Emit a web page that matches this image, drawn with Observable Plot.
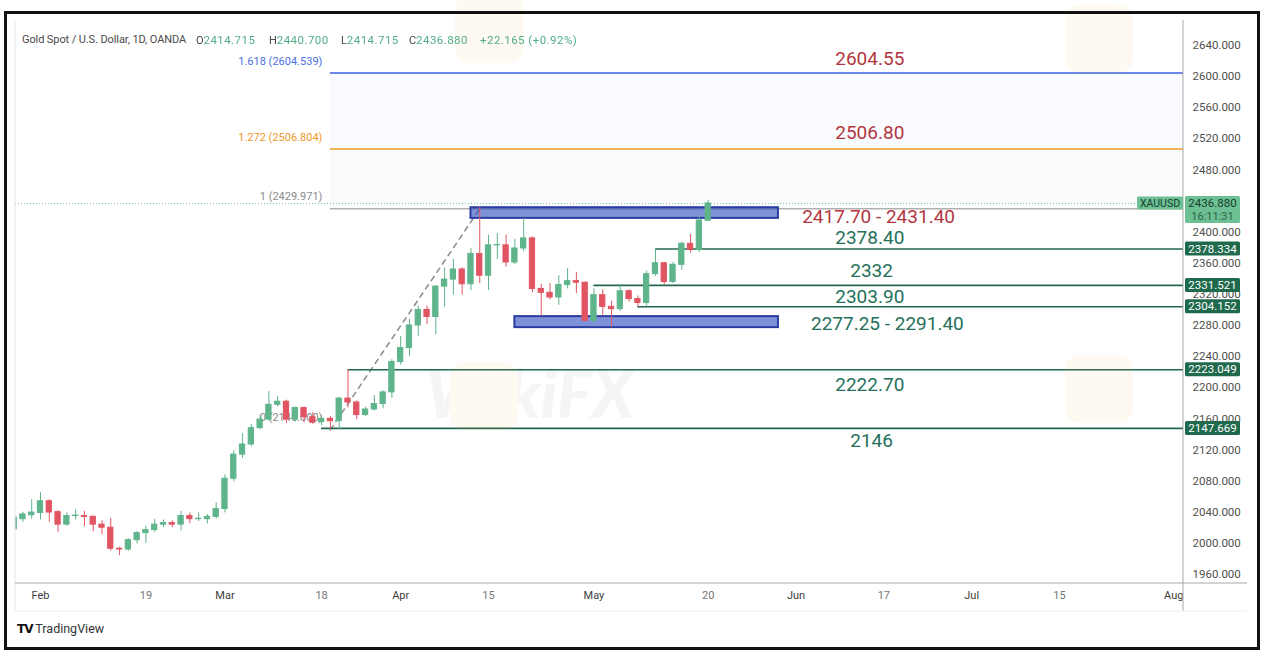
<!DOCTYPE html>
<html><head><meta charset="utf-8">
<script src="https://cdn.jsdelivr.net/npm/d3@7"></script>
<script src="https://cdn.jsdelivr.net/npm/@observablehq/plot@0.6"></script>
<style>
body{margin:0;background:#fff;}
#wrap{position:relative;width:1262px;height:650px;overflow:hidden;font-family:Roboto,"Noto Sans",sans-serif;}
#wrap svg{position:absolute;left:0;top:0;}
.hd{position:absolute;top:33px;font-size:11px;color:#4a4a4a;white-space:pre;letter-spacing:-0.1px;}
.hd .v{color:#4fae84;font-size:11.5px;letter-spacing:0.45px;}
#tv{position:absolute;left:17px;top:621px;font-size:12.5px;color:#333;white-space:pre;}
#tv b{font-family:"DejaVu Sans",sans-serif;font-weight:900;font-size:12px;color:#111;letter-spacing:-1px;}
#border{position:absolute;left:4px;top:11px;width:1250px;height:633px;border:3px solid #111;box-sizing:content-box;pointer-events:none;}
</style></head><body>
<div id="wrap"></div>
<script>
// ---- candle data (trading days, first = 2024-01-29) ----
const dates = ["01-29","01-30","01-31","02-01","02-02","02-05","02-06","02-07","02-08","02-09",
"02-12","02-13","02-14","02-15","02-16","02-19","02-20","02-21","02-22","02-23",
"02-26","02-27","02-28","02-29","03-01","03-04","03-05","03-06","03-07","03-08",
"03-11","03-12","03-13","03-14","03-15","03-18","03-19","03-20","03-21","03-22",
"03-25","03-26","03-27","03-28","04-01","04-02","04-03","04-04","04-05","04-08",
"04-09","04-10","04-11","04-12","04-15","04-16","04-17","04-18","04-19","04-22",
"04-23","04-24","04-25","04-26","04-29","04-30","05-01","05-02","05-03","05-06",
"05-07","05-08","05-09","05-10","05-13","05-14","05-15","05-16","05-17","05-20"];
const open  = [2018,2031,2036,2039,2054,2040,2024,2035,2035,2034,
2024,2020,1993,1992,2004,2013,2017,2024,2026,2024,
2035,2031,2031,2034,2044,2083,2114,2127,2148,2159,
2178,2182,2159,2174,2162,2156,2160,2157,2186,2181,
2165,2172,2179,2194,2233,2251,2280,2300,2291,2330,
2339,2352,2333,2372,2344,2383,2383,2361,2379,2392,
2327,2322,2316,2332,2337,2335,2286,2319,2304,2301,
2324,2314,2309,2346,2360,2336,2358,2385,2377,2414.715];
const high  = [2036,2040,2056,2065,2056,2042,2039,2043,2041,2035,
2029,2032,1995,2006,2015,2022,2031,2030,2029,2041,
2039,2039,2037,2052,2088,2119,2141,2153,2165,2195,
2189,2184,2175,2175,2168,2164,2163,2188,2222.7,2183,
2175,2190,2196,2236,2266,2288,2305,2305,2331,2354,
2365,2354,2379,2431.4,2396,2398,2396,2391,2417.6,2394,
2333,2334,2344,2353,2348,2336,2327,2326,2311,2331.5,
2326,2318,2350,2378.4,2361,2361,2387,2397,2422,2440.7];
const low   = [2015,2027,2031,2030,2027,2014,2022,2030,2021,2015,
2011,1990,1984,1990,1999,2000,2014,2020,2020,2016,
2025,2028,2025,2031,2039,2079,2109,2124,2146,2157,
2175,2154,2156,2155,2153,2151,2146,2146,2174,2159,
2163,2170,2173,2186,2229,2240,2266,2281,2268,2304,
2319,2319,2325,2334,2325,2365,2355,2358,2375,2322,
2291.5,2313,2306,2327,2321,2285,2282,2292,2277.3,2298,
2310,2304,2305,2343,2332,2334,2351,2373,2374,2414.715];
const close = [2033,2037,2039.5,2054,2039.5,2024,2035,2035.5,2034,2024,
2020,1993,1992,2004,2013,2017,2024,2026,2024,2035,
2031,2031.5,2034,2044,2083,2114,2127,2148,2159,2178,
2182,2159,2174,2162,2155,2160,2157,2186,2181,2165,
2172,2179,2194,2233,2251,2280,2300,2291,2330,2339,
2352,2333,2372,2344,2383,2383.5,2361,2379,2392,2327,
2322,2316,2332,2337,2335,2286,2319,2304,2301,2324,
2314,2309,2346,2360,2336,2358,2385,2377,2415,2436.88];

// ---- time axis (bar index, 0 = first bar) ----
const tickIdx    = [3,15,24,35,44,54,66,79,89,99,109,119,132];
const tickLabels = ["Feb","19","Mar","18","Apr","15","May","20","Jun","17","Jul","15","Aug"];
// price-scale labels that are visible (2440 is hidden under the last-price tag)
const priceTicks = [1960,2000,2040,2080,2120,2160,2200,2240,2280,2320,2360,2400,2480,2520,2560,2600,2640];

// ---- Fibonacci extension ----
const fibRatio  = ["1.618","1.272","1","0"];
const fibPrice  = [2604.539, 2506.804, 2429.971, 2146.000];
const fibColor  = ["#3b62e0","#f39a25","#8a8a8a","#8a8a8a"];
const fibStart  = 36;           // Mar 19 low
const fibEndBar = 53;           // Apr 12 high

// ---- support / resistance levels ----
const levelPrice = [2378.334, 2331.521, 2304.152, 2223.049, 2147.669];
const levelStart = [73, 66, 71, 38, 35];

// ---- zones ----
const zoneLow   = [2417.70, 2277.25];
const zoneHigh  = [2431.40, 2291.40];
const zoneStart = [52, 57];
const zoneEnd   = [87, 87];

// ---- annotations ----
const noteText  = ["2604.55","2506.80","2417.70 - 2431.40","2378.40","2332","2303.90","2277.25 - 2291.40","2222.70","2146"];
const noteBar   = [97.4, 97.4, 98.4, 97.4, 97.6, 97.4, 99.4, 97.4, 97.6];
const notePrice = [2623, 2527, 2419, 2392, 2350.7, 2317, 2282.6, 2203, 2131];
const noteRed   = [true, true, true, false, false, false, false, false, false];

// ---- header ----
const symbolTitle = "Gold Spot / U.S. Dollar, 1D, OANDA";
const changeText  = "+22.165 (+0.92%)";
const lastTime    = "16:11:31";
const lastPrice = close[close.length-1];

const GREEN = "#5eb48b", RED = "#e15462";
const candles = dates.map((d,i)=>({i, o:open[i], h:high[i], l:low[i], c:close[i], up: close[i] >= open[i]}));
const fibs = fibPrice.map((p,k)=>({p, r:fibRatio[k], col:fibColor[k]}));
const levels = levelPrice.map((p,k)=>({p, s:levelStart[k]}));
const zones = zoneLow.map((lo,k)=>({lo, hi:zoneHigh[k], s:zoneStart[k], e:zoneEnd[k]}));
const notes = noteText.map((t,k)=>({t, x:noteBar[k], y:notePrice[k], red:noteRed[k]}));
const ticks = tickIdx.map((x,k)=>({x, label:tickLabels[k], month:isNaN(+tickLabels[k])}));

const W = 1262, H = 650, mL = 15, mR = 79, mT = 20, mB = 67;
const xDom = [(mL-13.645)/8.785, (W-mR-13.645)/8.785];
const yDom = [1948.3, 2672.1];
const xMax = xDom[1] + 1;

const plot = Plot.plot({
  width: W, height: H,
  marginLeft: mL, marginRight: mR, marginTop: mT, marginBottom: mB,
  x: {type:"linear", domain: xDom, axis: null},
  y: {domain: yDom, axis: null},
  style: {fontFamily: "Roboto, 'Noto Sans', sans-serif", background: "transparent", overflow: "visible"},
  marks: [
    Plot.rect([0], {x1: fibStart, x2: xMax, y1: fibPrice[1], y2: fibPrice[0], fill: "#3b62e0", fillOpacity: 0.025, clip: true}),
    Plot.rect([0], {x1: fibStart, x2: xMax, y1: fibPrice[2], y2: fibPrice[1], fill: "#5a8fd0", fillOpacity: 0.04, clip: true}),
    Plot.ruleY(fibs.slice(0,3), {y: "p", x1: fibStart, x2: xMax, stroke: "col", strokeWidth: d => d.r === "1" ? 1 : 1.5, clip: true}),
    Plot.text(fibs, {x: fibStart, y: "p", text: d => `${d.r} (${d.p.toFixed(3)})`, fill: d => d.r === "1.618" ? "#4a6fe0" : d.r === "1.272" ? "#f0982a" : "#8a8a8a", textAnchor: "end", dx: -8, dy: -12, fontSize: 11}),
    Plot.line([{x: fibStart, y: fibPrice[3]}, {x: fibEndBar, y: fibPrice[2]}], {x: "x", y: "y", stroke: "#8a8a8a", strokeWidth: 1.5, strokeDasharray: "5,5"}),
    Plot.ruleY([lastPrice], {stroke: "#7cc4a0", strokeWidth: 1, strokeDasharray: "1,2"}),
    Plot.ruleY(levels, {y: "p", x1: "s", x2: xMax, stroke: "#23674f", strokeWidth: 1.6, clip: true}),
    Plot.rect(zones, {x1: "s", x2: "e", y1: "lo", y2: "hi", fill: "#2343bb", fillOpacity: 0.58, stroke: "#2b3ca3", strokeWidth: 2}),
    Plot.ruleX(candles, {x: "i", y1: "l", y2: "h", stroke: d => d.up ? GREEN : RED, strokeWidth: 1, clip: true}),
    Plot.rect(candles, {x1: d => d.i - 0.3, x2: d => d.i + 0.3, y1: d => Math.min(d.o, d.c), y2: d => Math.max(d.o, d.c), fill: d => d.up ? GREEN : RED, stroke: d => d.up ? GREEN : RED, strokeWidth: 1, clip: true}),
    Plot.text(notes, {x: "x", y: "y", text: "t", fill: d => d.red ? "#b23641" : "#25705a", fontSize: 19}),
    Plot.text(ticks, {x: "x", text: "label", frameAnchor: "bottom", dy: 15, fontSize: 11, fill: d => d.month ? "#3c3c3c" : "#777", fontWeight: d => d.month ? "bold" : "normal"}),
    Plot.axisY(priceTicks, {anchor: "right", tickSize: 0, tickPadding: 9, tickFormat: d3.format(".3f"), label: null, fontSize: 11.5, color: "#505050"})
  ]
});

document.getElementById("wrap").appendChild(plot);

const ys = plot.scale("y"), svg = d3.select(plot);
const pr = W - mR, pb = H - mB;
const g = svg.append("g");
g.append("line").attr("x1", mL).attr("x2", mL).attr("y1", mT).attr("y2", 611).attr("stroke", "#e6e6e6");
g.append("line").attr("x1", pr).attr("x2", pr).attr("y1", mT).attr("y2", 611).attr("stroke", "#a8a8a8");
g.append("line").attr("x1", mL).attr("x2", 1247).attr("y1", pb).attr("y2", pb).attr("stroke", "#a8a8a8");
g.append("line").attr("x1", mL).attr("x2", 1247).attr("y1", 611).attr("y2", 611).attr("stroke", "#eeeeee");
levelPrice.forEach(p => {
  const y = ys.apply(p);
  g.append("rect").attr("x", pr + 2).attr("y", y - 7).attr("width", 55).attr("height", 14).attr("rx", 1.5).attr("fill", "#1f6a4d");
  g.append("text").attr("x", pr + 29.5).attr("y", y + 4).attr("text-anchor", "middle").attr("fill", "#fff").attr("font-size", 11.5).text(p.toFixed(3));
});
{
  const y = ys.apply(lastPrice);
  g.append("rect").attr("x", pr - 46).attr("y", y - 6.5).attr("width", 46).attr("height", 13).attr("rx", 1.5).attr("fill", "#6dbf94");
  g.append("text").attr("x", pr - 23).attr("y", y + 4).attr("text-anchor", "middle").attr("fill", "#17402d").attr("font-size", 10.5).text("XAUUSD");
  g.append("rect").attr("x", pr + 2).attr("y", y - 7).attr("width", 55).attr("height", 27).attr("rx", 1.5).attr("fill", "#6dbf94");
  g.append("text").attr("x", pr + 29.5).attr("y", y + 4).attr("text-anchor", "middle").attr("fill", "#17402d").attr("font-size", 11.5).text(lastPrice.toFixed(3));
  g.append("text").attr("x", pr + 29.5).attr("y", y + 17).attr("text-anchor", "middle").attr("fill", "#2d6447").attr("font-size", 11).text(lastTime);
}
// faint watermark (central one fully visible; faint logo tiles elsewhere)
const wm = svg.append("g").attr("opacity", 0.06).attr("font-family", "Lato, Roboto, sans-serif").attr("font-weight", 900).attr("font-style", "italic");
wm.append("text").attr("x", 530).attr("y", 418).attr("font-size", 66).attr("fill", "#555").text("WikiFX");
[[450, 362], [455, -5], [1065, 5], [1065, 355]].forEach(([x, y]) => {
  wm.append("rect").attr("x", x).attr("y", y).attr("width", 68).attr("height", 68).attr("rx", 14).attr("fill", "#f0b020").attr("opacity", 0.9);
});

// header: title + OHLC groups
const wrap = document.getElementById("wrap");
const o = open[open.length-1], h = high[high.length-1], l = low[low.length-1];
const groups = [
  [22, symbolTitle, null],
  [196, "O", o.toFixed(3)],
  [269, "H", h.toFixed(3)],
  [341, "L", l.toFixed(3)],
  [409, "C", lastPrice.toFixed(3)],
  [480, "", changeText]
];
groups.forEach(([x, lab, val]) => {
  const s = document.createElement("div");
  s.className = "hd";
  s.style.left = x + "px";
  s.innerHTML = lab + (val ? `<span class="v">${val}</span>` : "");
  wrap.appendChild(s);
});
const tv = document.createElement("div");
tv.id = "tv";
tv.innerHTML = `<b>TV</b> TradingView`;
wrap.appendChild(tv);
const bd = document.createElement("div");
bd.id = "border";
wrap.appendChild(bd);
</script>
</body></html>
